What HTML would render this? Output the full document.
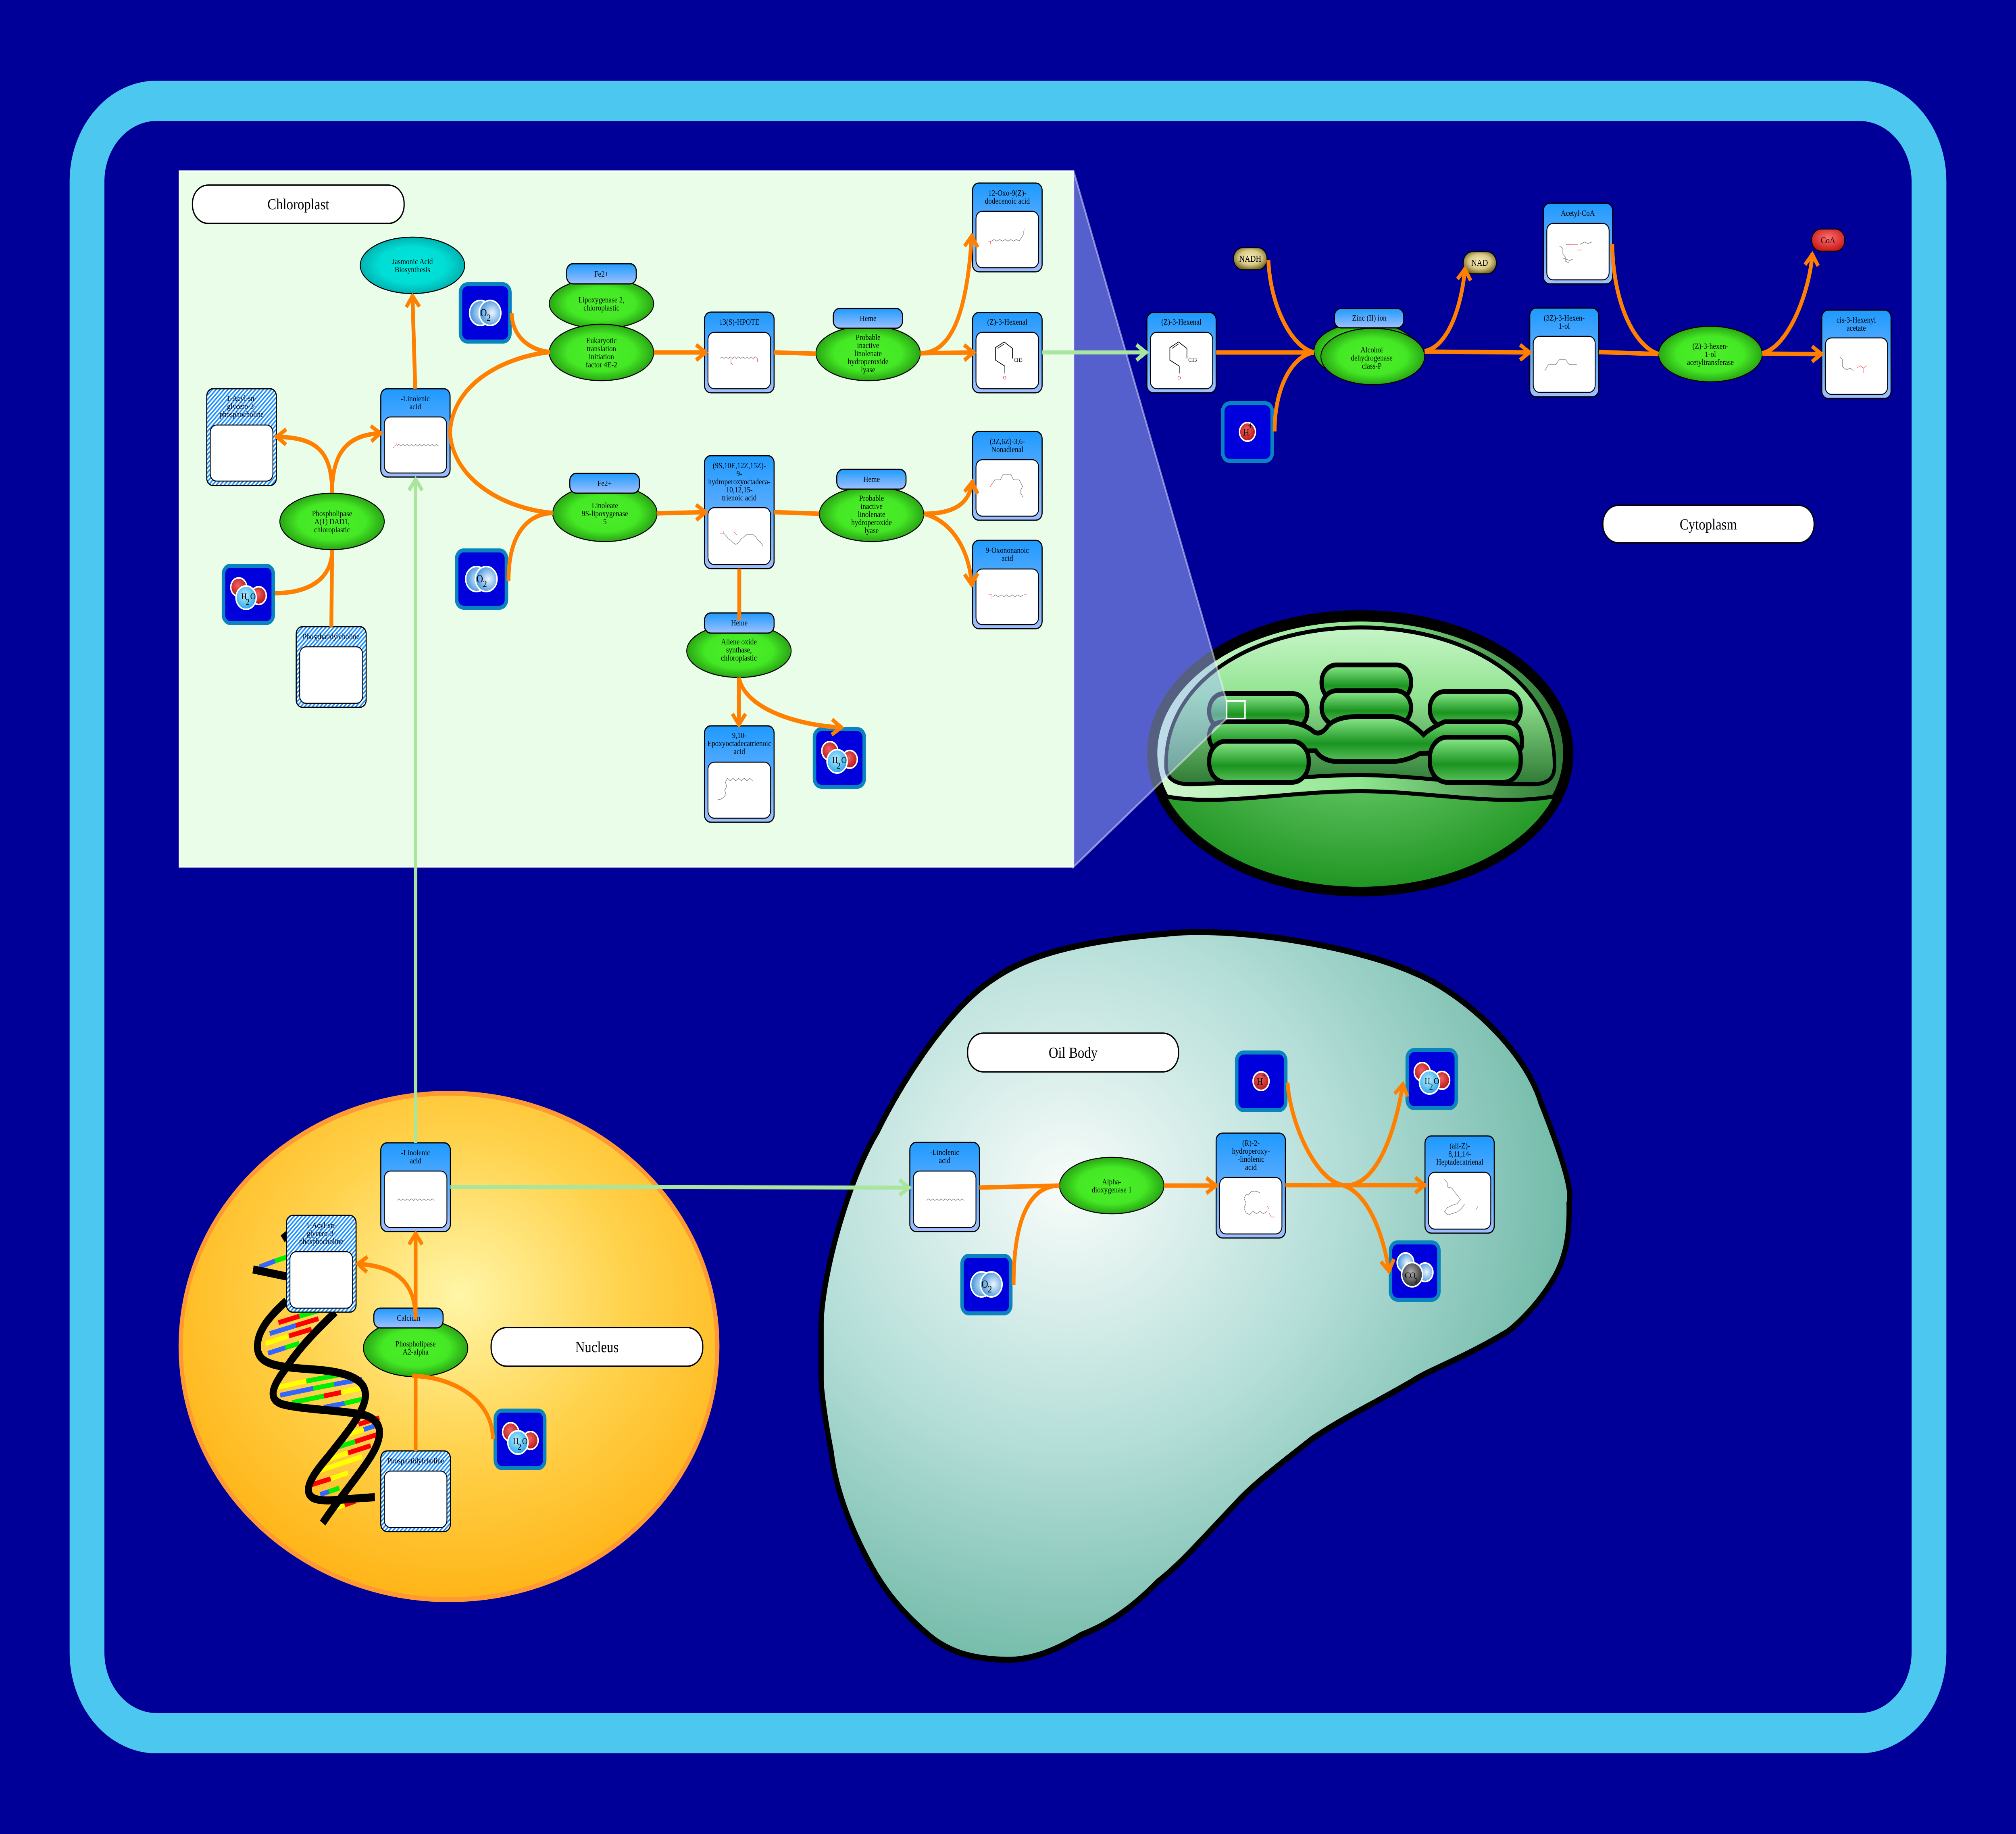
<!DOCTYPE html>
<html><head><meta charset="utf-8"><style>
html,body{margin:0;padding:0;width:100%;height:100%;overflow:hidden;background:#000099;}
svg{display:block;width:100vw;height:100vh;}
text{font-family:"Liberation Serif",serif;fill:#000;}
.t{font-size:20px;text-anchor:middle;}
.L{font-size:38px;text-anchor:middle;}
.eo{fill:none;stroke:#FF8000;stroke-width:11;}
.eg{fill:none;stroke:#A8E6A0;stroke-width:10;}
.bx{fill:url(#gb);stroke:#000;stroke-width:3;}
.hx{fill:url(#hatch);stroke:#000;stroke-width:3;}
.in{fill:#fff;stroke:#000;stroke-width:2.5;}
.el{fill:url(#ge);stroke:#000;stroke-width:2.5;}
.mb{fill:#0000DD;stroke:#0A84BF;stroke-width:10;}
.lb{fill:#fff;stroke:#000;stroke-width:3.5;}
.ms{fill:none;stroke:#777;stroke-width:1.3;}
.msr{fill:none;stroke:#e55;stroke-width:1.3;}
.wc{stroke:#fff;stroke-width:4;}
.gr{stroke:#000;stroke-width:12;fill:url(#ggr);}
</style></head><body>
<svg xmlns="http://www.w3.org/2000/svg" width="5792" height="4548" viewBox="0 0 5792 4548" preserveAspectRatio="none">
<defs>
<linearGradient id="gb" x1="0" y1="0" x2="0" y2="1"><stop offset="0" stop-color="#1E9AFF"/><stop offset="1" stop-color="#9EC0FF"/></linearGradient>
<radialGradient id="ge" cx=".5" cy=".5" r=".5"><stop offset="0" stop-color="#4AF02A"/><stop offset=".65" stop-color="#44E824"/><stop offset="1" stop-color="#2AA515"/></radialGradient>
<radialGradient id="gc" cx=".5" cy=".5" r=".5"><stop offset="0" stop-color="#00E6DC"/><stop offset=".65" stop-color="#00DDD5"/><stop offset="1" stop-color="#00B2B2"/></radialGradient>
<radialGradient id="gnadh" cx=".5" cy=".45" r=".55"><stop offset="0" stop-color="#F8F0B8"/><stop offset=".6" stop-color="#D8C888"/><stop offset="1" stop-color="#7A6A28"/></radialGradient>
<radialGradient id="gcoa" cx=".5" cy=".4" r=".6"><stop offset="0" stop-color="#FF7070"/><stop offset="1" stop-color="#C81818"/></radialGradient>
<radialGradient id="go2" cx=".6" cy=".5" r=".6"><stop offset="0" stop-color="#EEF6FF"/><stop offset="1" stop-color="#3A90DA"/></radialGradient>
<radialGradient id="gred" cx=".45" cy=".4" r=".6"><stop offset="0" stop-color="#F06262"/><stop offset="1" stop-color="#B81414"/></radialGradient>
<radialGradient id="gh" cx=".45" cy=".4" r=".6"><stop offset="0" stop-color="#B8EEFF"/><stop offset="1" stop-color="#28A6E8"/></radialGradient>
<radialGradient id="ggrey" cx=".45" cy=".4" r=".6"><stop offset="0" stop-color="#B0B0B0"/><stop offset="1" stop-color="#2A2A2A"/></radialGradient>
<radialGradient id="gnuc" cx=".52" cy=".4" r=".62"><stop offset="0" stop-color="#FFF6A8"/><stop offset=".5" stop-color="#FFD24C"/><stop offset="1" stop-color="#FFB314"/></radialGradient>
<radialGradient id="goil" cx=".33" cy=".35" r=".8"><stop offset="0" stop-color="#F8FCFA"/><stop offset=".45" stop-color="#B4DED8"/><stop offset="1" stop-color="#58AC96"/></radialGradient>
<radialGradient id="gorg" cx=".5" cy=".4" r=".62"><stop offset="0" stop-color="#7ED87E"/><stop offset="1" stop-color="#1B921E"/></radialGradient>
<linearGradient id="genv" x1="0" y1="0" x2="1" y2="0"><stop offset="0" stop-color="#D2F7D2"/><stop offset=".5" stop-color="#8EE68E"/><stop offset="1" stop-color="#2F7A35"/></linearGradient>
<linearGradient id="gstr" x1="0" y1="0" x2="0" y2="1"><stop offset="0" stop-color="#C8F5C8"/><stop offset=".45" stop-color="#8FE38F"/><stop offset="1" stop-color="#2F7A35"/></linearGradient>
<linearGradient id="ggr" x1="0" y1="0" x2="0" y2="1"><stop offset="0" stop-color="#8EEA8E"/><stop offset=".6" stop-color="#1A9420"/><stop offset="1" stop-color="#5CC05C"/></linearGradient>
<pattern id="hatch" width="8" height="8" patternUnits="userSpaceOnUse" patternTransform="rotate(45)"><rect width="8" height="8" fill="#fff"/><rect width="4" height="8" fill="#1E90FF"/></pattern>
<marker id="mo" markerUnits="userSpaceOnUse" markerWidth="70" markerHeight="70" viewBox="-35 -35 70 70" refX="0" refY="0" orient="auto"><path d="M-30,-19 L-3,0 L-30,19" fill="none" stroke="#FF8000" stroke-width="10"/></marker>
<marker id="mg" markerUnits="userSpaceOnUse" markerWidth="70" markerHeight="70" viewBox="-35 -35 70 70" refX="0" refY="0" orient="auto"><path d="M-30,-19 L-3,0 L-30,19" fill="none" stroke="#A8E6A0" stroke-width="10"/></marker>
</defs>

<rect width="5792" height="4548" fill="#000099"/>
<rect x="250" y="250" width="5292" height="4048" rx="200" fill="none" stroke="#4CC8F0" stroke-width="100"/>

<!-- Chloroplast panel -->
<rect x="515" y="424" width="2569" height="1726" fill="#EAFDE9" stroke="#fff" stroke-width="3"/>
<rect x="553" y="459" width="608" height="95" rx="45" class="lb"/>
<text class="L" x="857" y="519">Chloroplast</text>

<!-- Chloroplast organelle -->
<ellipse cx="3908" cy="1868" rx="600" ry="343" fill="url(#gorg)"/>
<path d="M3352,1975 A588,331 0 1 1 4464,1975 C4300,2000 4100,1962 3908,1962 C3700,1962 3500,2000 3352,1975 Z" fill="url(#genv)" stroke="#000" stroke-width="10"/>
<path d="M3350,1900 C3345,1690 3600,1556 3908,1556 C4216,1556 4470,1690 4466,1900 C4466,1935 4440,1945 4400,1945 C4200,1945 4050,1922 3908,1922 C3760,1922 3600,1940 3420,1945 C3378,1945 3350,1932 3350,1900 Z" fill="url(#gstr)" stroke="#000" stroke-width="10"/>
<rect x="3797" y="1649" width="257" height="87" rx="42" class="gr"/>
<rect x="3797" y="1713" width="257" height="84" rx="42" class="gr"/>
<rect x="3474" y="1720" width="282" height="87" rx="42" class="gr"/>
<rect x="4108" y="1715" width="261" height="87" rx="42" class="gr"/>
<path class="gr" d="M3520,1790 L3700,1790 Q3750,1795 3775,1815 Q3795,1825 3815,1800 Q3840,1777 3900,1777 L4000,1777 Q4040,1780 4090,1822 Q4110,1805 4150,1790 L4320,1790 Q4372,1790 4372,1835 L4372,1850 Q4372,1865 4330,1865 L4080,1868 Q4040,1889 3990,1889 L3850,1889 Q3800,1889 3780,1862 L3520,1862 Q3474,1862 3474,1826 Q3474,1790 3520,1790 Z"/>
<rect x="3474" y="1838" width="286" height="102" rx="48" class="gr"/>
<rect x="4108" y="1828" width="261" height="112" rx="50" class="gr"/>
<ellipse cx="3908" cy="1868" rx="600" ry="343" fill="none" stroke="#000" stroke-width="24"/>

<!-- zoom polygon -->
<polygon points="3084,423 3524,1738 3524,1782 3084,2150" fill="rgba(170,192,255,0.5)" stroke="rgba(255,255,255,0.45)" stroke-width="5"/>
<rect x="3524" y="1738" width="53" height="44" fill="none" stroke="#fff" stroke-width="4"/>

<!-- Nucleus -->
<ellipse cx="1290" cy="3339" rx="771" ry="628" fill="url(#gnuc)" stroke="#FF9933" stroke-width="12"/>
<!-- DNA rungs -->
<g stroke-width="12" fill="none">
<line x1="745" y1="3142" x2="790" y2="3127" stroke="#3366FF"/><line x1="790" y1="3127" x2="825" y2="3117" stroke="#00EE00"/>
<line x1="800" y1="3280" x2="860" y2="3264" stroke="#FF0000"/><line x1="860" y1="3264" x2="935" y2="3245" stroke="#00EE00"/>
<line x1="775" y1="3307" x2="850" y2="3287" stroke="#3366FF"/><line x1="850" y1="3287" x2="915" y2="3270" stroke="#FF0000"/>
<line x1="762" y1="3332" x2="830" y2="3313" stroke="#FFFF00"/><line x1="830" y1="3313" x2="895" y2="3296" stroke="#FF0000"/>
<line x1="770" y1="3356" x2="820" y2="3342" stroke="#3366FF"/><line x1="820" y1="3342" x2="860" y2="3331" stroke="#00EE00"/>
<line x1="800" y1="3440" x2="880" y2="3425" stroke="#FFFF00"/><line x1="880" y1="3425" x2="1000" y2="3405" stroke="#00EE00"/>
<line x1="805" y1="3460" x2="900" y2="3443" stroke="#3366FF"/><line x1="900" y1="3443" x2="960" y2="3433" stroke="#00EE00"/><line x1="960" y1="3433" x2="1040" y2="3420" stroke="#3366FF"/>
<line x1="840" y1="3478" x2="930" y2="3462" stroke="#00EE00"/><line x1="930" y1="3462" x2="980" y2="3453" stroke="#FF0000"/><line x1="980" y1="3453" x2="1045" y2="3441" stroke="#FFFF00"/>
<line x1="930" y1="3490" x2="990" y2="3480" stroke="#3366FF"/><line x1="990" y1="3480" x2="1050" y2="3468" stroke="#00EE00"/>
<line x1="1030" y1="3532" x2="1090" y2="3516" stroke="#FF0000"/>
<line x1="1000" y1="3557" x2="1045" y2="3545" stroke="#FFFF00"/><line x1="1045" y1="3545" x2="1090" y2="3532" stroke="#3366FF"/>
<line x1="965" y1="3590" x2="1020" y2="3575" stroke="#00EE00"/><line x1="1020" y1="3575" x2="1085" y2="3557" stroke="#FF0000"/>
<line x1="925" y1="3624" x2="1000" y2="3603" stroke="#FFFF00"/><line x1="1000" y1="3603" x2="1065" y2="3585" stroke="#FF0000"/>
<line x1="900" y1="3652" x2="1040" y2="3612" stroke="#FFFF00"/>
<line x1="895" y1="3682" x2="950" y2="3667" stroke="#FF0000"/><line x1="950" y1="3667" x2="1000" y2="3652" stroke="#FFFF00"/>
<line x1="920" y1="3706" x2="945" y2="3699" stroke="#3366FF"/><line x1="945" y1="3699" x2="975" y2="3690" stroke="#00EE00"/>
<line x1="955" y1="3742" x2="990" y2="3732" stroke="#FFFF00"/><line x1="990" y1="3732" x2="1020" y2="3723" stroke="#FF0000"/>
</g>
<g fill="none" stroke="#000" stroke-width="20">
<path d="M727,3148 L860,3172"/>
<path d="M812,3072 L832,3058"/>
<path d="M823,3226 C780,3260 735,3300 740,3346 C745,3385 800,3390 900,3396 C1000,3402 1050,3420 1050,3460 C1050,3500 990,3560 940,3615 C890,3665 870,3700 900,3715 C930,3728 1000,3715 1077,3713"/>
<path d="M963,3254 C920,3290 860,3340 820,3395 C780,3440 770,3470 810,3482 C860,3495 1000,3498 1050,3510 C1100,3525 1100,3560 1070,3605 C1040,3650 970,3720 927,3777"/>
</g>
<rect x="1411" y="3292" width="608" height="96" rx="45" class="lb"/>
<text class="L" x="1715" y="3353">Nucleus</text>

<!-- Oil body -->
<path d="M2359,3277 C2365,3150 2440,2920 2520,2807 C2580,2700 2720,2500 2857,2426 C2950,2370 3100,2330 3400,2312 C3600,2305 3900,2350 4060,2411 C4200,2460 4380,2600 4427,2734 C4480,2850 4520,2950 4508,2983 C4510,3060 4500,3110 4471,3159 C4420,3240 4340,3300 4324,3306 C4200,3370 4100,3400 4060,3424 C3950,3480 3850,3520 3767,3570 C3680,3630 3600,3680 3547,3732 C3450,3820 3390,3880 3327,3922 C3250,3990 3180,4030 3107,4054 C3020,4100 2950,4118 2887,4116 C2800,4114 2730,4100 2667,4054 C2580,3990 2530,3930 2491,3864 C2440,3780 2400,3690 2388,3600 C2370,3520 2360,3450 2359,3424 Z" fill="url(#goil)" stroke="#000" stroke-width="15"/>
<rect x="2780" y="2562" width="606" height="96" rx="45" class="lb"/>
<text class="L" x="3083" y="2623">Oil Body</text>

<!-- Cytoplasm label -->
<rect x="4605" y="1253" width="607" height="93" rx="45" class="lb"/>
<text class="L" x="4908" y="1313">Cytoplasm</text>

<!-- ===== Chloroplast nodes ===== -->
<ellipse cx="1185" cy="658" rx="150" ry="70" fill="url(#gc)" stroke="#000" stroke-width="2.5"/>
<text class="t" x="1185" y="655">Jasmonic Acid<tspan x="1185" dy="20">Biosynthesis</tspan></text>

<rect x="594" y="964" width="200" height="240" rx="18" class="hx"/>
<rect x="604" y="1054" width="180" height="139" rx="18" class="in"/>
<text class="t" x="694" y="994">1-Acyl-sn-<tspan x="694" dy="20">glycero-3-</tspan><tspan x="694" dy="20">phosphocholine</tspan></text>

<rect x="1094" y="964" width="199" height="219" rx="18" class="bx"/>
<rect x="1104" y="1034" width="179" height="139" rx="18" class="in"/>
<text class="t" x="1193" y="995">-Linolenic<tspan x="1193" dy="20">acid</tspan></text>
<path class="ms" d="M1140,1106 l6,-4 6,4 6,-4 6,4 6,-4 6,4 6,-4 6,4 6,-4 6,4 6,-4 6,4 6,-4 6,4 6,-4 6,4 6,-4 6,4 6,-4 6,4"/>
<path class="msr" d="M1136,1106 l4,-6 M1134,1108 l-4,2"/>

<ellipse cx="954" cy="1293" rx="150" ry="70" class="el"/>
<text class="t" x="954" y="1280">Phospholipase<tspan x="954" dy="20">A(1) DAD1,</tspan><tspan x="954" dy="20">chloroplastic</tspan></text>

<rect x="851" y="1554" width="201" height="200" rx="18" class="hx"/>
<rect x="861" y="1604" width="181" height="140" rx="18" class="in"/>
<text class="t" x="951" y="1585">Phosphatidylcholine</text>

<!-- H2O chl -->
<rect x="642" y="1403" width="143" height="142" rx="20" class="mb"/>
<circle cx="686" cy="1456" r="23" fill="url(#gred)" class="wc"/><circle cx="743" cy="1477" r="22" fill="url(#gred)" class="wc"/><circle cx="707" cy="1482" r="29" fill="url(#gh)" class="wc"/>
<text x="693" y="1486" font-size="22">H</text><text x="706" y="1500" font-size="22">2</text><text x="719" y="1486" font-size="22">O</text>

<!-- O2 chl top -->
<rect x="1323" y="705" width="142" height="142" rx="20" class="mb"/>
<circle cx="1380" cy="776" r="31" fill="url(#go2)" class="wc"/><circle cx="1408" cy="776" r="31" fill="url(#go2)" class="wc"/>
<text x="1380" y="784" font-size="26">O</text><text x="1398" y="796" font-size="24">2</text>
<!-- O2 chl low -->
<rect x="1312" y="1365" width="143" height="142" rx="20" class="mb"/>
<circle cx="1369" cy="1436" r="31" fill="url(#go2)" class="wc"/><circle cx="1397" cy="1436" r="31" fill="url(#go2)" class="wc"/>
<text x="1369" y="1444" font-size="26">O</text><text x="1387" y="1456" font-size="24">2</text>

<!-- Lipoxygenase complex -->
<ellipse cx="1728" cy="753" rx="150" ry="62" class="el"/>
<rect x="1628" y="654" width="200" height="50" rx="18" class="bx"/>
<text class="t" x="1728" y="686">Fe2+</text>
<text class="t" x="1728" y="750">Lipoxygenase 2,<tspan x="1728" dy="20">chloroplastic</tspan></text>
<ellipse cx="1728" cy="874" rx="150" ry="70" class="el"/>
<text class="t" x="1728" y="851">Eukaryotic<tspan x="1728" dy="20">translation</tspan><tspan x="1728" dy="20">initiation</tspan><tspan x="1728" dy="20">factor 4E-2</tspan></text>

<ellipse cx="1738" cy="1273" rx="150" ry="70" class="el"/>
<rect x="1637" y="1174" width="200" height="49" rx="18" class="bx"/>
<text class="t" x="1737" y="1205">Fe2+</text>
<text class="t" x="1738" y="1260">Linoleate<tspan x="1738" dy="20">9S-lipoxygenase</tspan><tspan x="1738" dy="20">5</tspan></text>

<rect x="2024" y="774" width="200" height="200" rx="18" class="bx"/>
<rect x="2034" y="824" width="180" height="140" rx="18" class="in"/>
<text class="t" x="2124" y="805">13(S)-HPOTE</text>
<path class="ms" d="M2068,889 l6,-4 6,4 6,-4 6,4 6,-4 6,4 6,-4 6,4 6,-4 6,4 6,-4 6,4 6,-4 6,4 6,-4 6,4 6,-4 6,4"/>
<path class="msr" d="M2100,891 l0,10 6,3 M2176,889 l0,8"/>

<rect x="2024" y="1130" width="200" height="280" rx="18" class="bx"/>
<rect x="2034" y="1259" width="180" height="141" rx="18" class="in"/>
<text class="t" x="2124" y="1161">(9S,10E,12Z,15Z)-<tspan x="2124" dy="20">9-</tspan><tspan x="2124" dy="20">hydroperoxyoctadeca-</tspan><tspan x="2124" dy="20">10,12,15-</tspan><tspan x="2124" dy="20">trienoic acid</tspan></text>
<path class="ms" d="M2078,1322 l8,6 6,8 8,4 6,6 8,4 8,-4 6,-8 8,-6 8,-6 10,0 10,0 8,6 6,8 8,6 6,8"/>
<path class="msr" d="M2068,1322 l10,0 0,-6 M2110,1320 l6,6"/>

<ellipse cx="2494" cy="876" rx="150" ry="68" class="el"/>
<rect x="2394" y="765" width="199" height="49" rx="18" class="bx"/>
<text class="t" x="2494" y="796">Heme</text>
<text class="t" x="2494" y="843">Probable<tspan x="2494" dy="20">inactive</tspan><tspan x="2494" dy="20">linolenate</tspan><tspan x="2494" dy="20">hydroperoxide</tspan><tspan x="2494" dy="20">lyase</tspan></text>

<ellipse cx="2504" cy="1275" rx="150" ry="68" class="el"/>
<rect x="2404" y="1164" width="199" height="49" rx="18" class="bx"/>
<text class="t" x="2504" y="1195">Heme</text>
<text class="t" x="2504" y="1242">Probable<tspan x="2504" dy="20">inactive</tspan><tspan x="2504" dy="20">linolenate</tspan><tspan x="2504" dy="20">hydroperoxide</tspan><tspan x="2504" dy="20">lyase</tspan></text>

<ellipse cx="2123" cy="1614" rx="150" ry="66" class="el"/>
<rect x="2024" y="1520" width="200" height="50" rx="18" class="bx"/>
<text class="t" x="2124" y="1551">Heme</text>
<text class="t" x="2123" y="1598">Allene oxide<tspan x="2123" dy="20">synthase,</tspan><tspan x="2123" dy="20">chloroplastic</tspan></text>

<rect x="2024" y="1800" width="200" height="239" rx="18" class="bx"/>
<rect x="2034" y="1890" width="180" height="139" rx="18" class="in"/>
<text class="t" x="2124" y="1830">9,10-<tspan x="2124" dy="20">Epoxyoctadecatrienoic</tspan><tspan x="2124" dy="20">acid</tspan></text>
<path class="ms" d="M2090,1930 l8,6 8,-6 8,6 8,-6 8,6 8,-6 8,6 8,-6 8,6 M2090,1930 l-6,10 4,10 -6,10 4,10 -8,8 -8,4 -10,2"/>

<!-- H2O chl 2 -->
<rect x="2340" y="1808" width="143" height="143" rx="20" class="mb"/>
<circle cx="2384" cy="1862" r="23" fill="url(#gred)" class="wc"/><circle cx="2441" cy="1883" r="22" fill="url(#gred)" class="wc"/><circle cx="2405" cy="1888" r="29" fill="url(#gh)" class="wc"/>
<text x="2391" y="1892" font-size="22">H</text><text x="2404" y="1906" font-size="22">2</text><text x="2417" y="1892" font-size="22">O</text>

<rect x="2794" y="454" width="200" height="220" rx="18" class="bx"/>
<rect x="2804" y="524" width="180" height="140" rx="18" class="in"/>
<text class="t" x="2894" y="485">12-Oxo-9(Z)-<tspan x="2894" dy="20">dodecenoic acid</tspan></text>
<path class="ms" d="M2848,598 l8,-4 8,4 8,-4 8,4 8,-4 8,4 8,-4 8,4 8,-4 8,4 6,-8 6,-8 0,-10"/>
<path class="msr" d="M2838,598 l8,0 M2846,598 l0,8 M2942,572 l0,-6"/>

<rect x="2794" y="775" width="200" height="199" rx="18" class="bx"/>
<rect x="2804" y="824" width="180" height="140" rx="18" class="in"/>
<text class="t" x="2894" y="805">(Z)-3-Hexenal</text>
<path d="M2909,889 L2909,864 L2885,848 L2860,862 L2860,893 L2887,908 L2887,926" fill="none" stroke="#000" stroke-width="1.8"/>
<path d="M2866,864 L2885,853" fill="none" stroke="#000" stroke-width="1.5"/>
<text x="2913" y="897" font-size="13" font-family="Liberation Sans, sans-serif">CH3</text>
<text x="2882" y="941" font-size="13" font-family="Liberation Sans, sans-serif" style="fill:#e00">O</text>

<rect x="2794" y="1070" width="200" height="220" rx="18" class="bx"/>
<rect x="2804" y="1140" width="180" height="140" rx="18" class="in"/>
<text class="t" x="2894" y="1101">(3Z,6Z)-3,6-<tspan x="2894" dy="20">Nonadienal</tspan></text>
<path class="ms" d="M2850,1200 l8,-10 16,0 8,-14 22,0 8,14 16,0 10,16 -8,14 10,14"/>
<path class="msr" d="M2850,1200 l-6,8"/>

<rect x="2794" y="1340" width="200" height="219" rx="18" class="bx"/>
<rect x="2804" y="1411" width="180" height="138" rx="18" class="in"/>
<text class="t" x="2894" y="1371">9-Oxononanoic<tspan x="2894" dy="20">acid</tspan></text>
<path class="ms" d="M2852,1480 l8,-5 8,5 8,-5 8,5 8,-5 8,5 8,-5 8,5 8,-5 8,5 8,-5"/>
<path class="msr" d="M2840,1475 l10,0 0,10 M2942,1475 l8,0"/>

<!-- ===== Cytoplasm nodes ===== -->
<rect x="3295" y="775" width="199" height="199" rx="18" class="bx"/>
<rect x="3305" y="824" width="179" height="140" rx="18" class="in"/>
<text class="t" x="3394" y="805">(Z)-3-Hexenal</text>
<path d="M3410,889 L3410,864 L3386,848 L3361,862 L3361,893 L3388,908 L3388,926" fill="none" stroke="#000" stroke-width="1.8"/>
<path d="M3367,864 L3386,853" fill="none" stroke="#000" stroke-width="1.5"/>
<text x="3414" y="897" font-size="13" font-family="Liberation Sans, sans-serif">CH3</text>
<text x="3383" y="941" font-size="13" font-family="Liberation Sans, sans-serif" style="fill:#e00">O</text>

<rect x="3544" y="614" width="96" height="55" rx="27" fill="url(#gnadh)" stroke="#000" stroke-width="2.5"/>
<text class="t" x="3592" y="649" style="font-size:22px">NADH</text>

<rect x="3513" y="1000" width="142" height="143" rx="20" class="mb"/>
<circle cx="3584" cy="1071" r="23" fill="url(#gred)" class="wc"/>
<text x="3572" y="1080" font-size="24">H</text><text x="3586" y="1064" font-size="24">+</text>

<ellipse cx="3924" cy="870" rx="149" ry="70" class="el"/>
<ellipse cx="3944" cy="884" rx="149" ry="70" class="el"/>
<rect x="3834" y="765" width="199" height="48" rx="18" class="bx"/>
<text class="t" x="3934" y="795">Zinc (II) ion</text>
<text class="t" x="3941" y="874">Alcohol<tspan x="3941" dy="20">dehydrogenase</tspan><tspan x="3941" dy="20">class-P</tspan></text>

<rect x="4204" y="624" width="95" height="55" rx="27" fill="url(#gnadh)" stroke="#000" stroke-width="2.5"/>
<text class="t" x="4251" y="659" style="font-size:22px">NAD</text>

<rect x="4395" y="764" width="198" height="220" rx="18" class="bx"/>
<rect x="4405" y="834" width="178" height="139" rx="18" class="in"/>
<text class="t" x="4494" y="795">(3Z)-3-Hexen-<tspan x="4494" dy="20">1-ol</tspan></text>
<path class="ms" d="M4442,914 l6,-10 22,0 10,-12 18,0 10,12 22,0"/>
<path class="msr" d="M4442,914 l-4,6"/>

<rect x="4434" y="504" width="199" height="200" rx="18" class="bx"/>
<rect x="4444" y="554" width="179" height="140" rx="18" class="in"/>
<text class="t" x="4533" y="535">Acetyl-CoA</text>
<path class="ms" d="M4480,610 l10,6 0,14 8,8 0,10 10,4 M4498,606 l12,0 M4540,606 l12,-6 10,4 12,-4 M4490,640 l20,6 10,-4"/>
<path class="msr" d="M4505,606 l28,0 M4532,620 l12,0"/>

<ellipse cx="4914" cy="878" rx="149" ry="69" class="el"/>
<text class="t" x="4914" y="865">(Z)-3-hexen-<tspan x="4914" dy="20">1-ol</tspan><tspan x="4914" dy="20">acetyltransferase</tspan></text>

<rect x="5205" y="568" width="95" height="55" rx="27" fill="url(#gcoa)" stroke="#000" stroke-width="2.5"/>
<text class="t" x="5252" y="603" style="font-size:22px">CoA</text>

<rect x="5234" y="769" width="199" height="219" rx="18" class="bx"/>
<rect x="5244" y="838" width="179" height="140" rx="18" class="in"/>
<text class="t" x="5333" y="800">cis-3-Hexenyl<tspan x="5333" dy="20">acetate</tspan></text>
<path class="ms" d="M5285,885 l8,6 0,18 12,8 10,-4 10,6"/>
<path class="msr" d="M5335,913 l10,-6 8,6 0,12 M5353,913 l10,-6"/>

<!-- ===== Nucleus nodes ===== -->
<rect x="1094" y="2834" width="200" height="220" rx="18" class="bx"/>
<rect x="1104" y="2904" width="180" height="140" rx="18" class="in"/>
<text class="t" x="1194" y="2865">-Linolenic<tspan x="1194" dy="20">acid</tspan></text>
<path class="ms" d="M1140,2977 l6,-4 6,4 6,-4 6,4 6,-4 6,4 6,-4 6,4 6,-4 6,4 6,-4 6,4 6,-4 6,4 6,-4 6,4 6,-4 6,4"/>

<rect x="823" y="3014" width="200" height="240" rx="18" class="hx"/>
<rect x="833" y="3104" width="180" height="140" rx="18" class="in"/>
<text class="t" x="923" y="3045">1-Acyl-sn-<tspan x="923" dy="20">glycero-3-</tspan><tspan x="923" dy="20">phosphocholine</tspan></text>

<ellipse cx="1194" cy="3343" rx="150" ry="71" class="el"/>
<rect x="1074" y="3244" width="199" height="49" rx="18" class="bx"/>
<text class="t" x="1174" y="3275">Calcium</text>
<text class="t" x="1194" y="3339">Phospholipase<tspan x="1194" dy="20">A2-alpha</tspan></text>

<rect x="1094" y="3598" width="200" height="200" rx="18" class="hx"/>
<rect x="1104" y="3648" width="180" height="140" rx="18" class="in"/>
<text class="t" x="1194" y="3629">Phosphatidylcholine</text>

<rect x="1423" y="3498" width="142" height="143" rx="20" class="mb"/>
<circle cx="1467" cy="3551" r="23" fill="url(#gred)" class="wc"/><circle cx="1524" cy="3572" r="22" fill="url(#gred)" class="wc"/><circle cx="1488" cy="3577" r="29" fill="url(#gh)" class="wc"/>
<text x="1474" y="3581" font-size="22">H</text><text x="1487" y="3595" font-size="22">2</text><text x="1500" y="3581" font-size="22">O</text>

<!-- ===== Oil body nodes ===== -->
<rect x="2614" y="2833" width="200" height="221" rx="18" class="bx"/>
<rect x="2624" y="2904" width="180" height="140" rx="18" class="in"/>
<text class="t" x="2714" y="2864">-Linolenic<tspan x="2714" dy="20">acid</tspan></text>
<path class="ms" d="M2662,2977 l6,-4 6,4 6,-4 6,4 6,-4 6,4 6,-4 6,4 6,-4 6,4 6,-4 6,4 6,-4 6,4 6,-4 6,4 6,-4 6,4"/>

<ellipse cx="3194" cy="2940" rx="150" ry="70" class="el"/>
<text class="t" x="3194" y="2937">Alpha-<tspan x="3194" dy="20">dioxygenase 1</tspan></text>

<rect x="2764" y="3114" width="140" height="143" rx="20" class="mb"/>
<circle cx="2820" cy="3185" r="31" fill="url(#go2)" class="wc"/><circle cx="2848" cy="3185" r="31" fill="url(#go2)" class="wc"/>
<text x="2820" y="3193" font-size="26">O</text><text x="2838" y="3205" font-size="24">2</text>

<rect x="3494" y="2810" width="199" height="260" rx="18" class="bx"/>
<rect x="3504" y="2920" width="179" height="140" rx="18" class="in"/>
<text class="t" x="3594" y="2841">(R)-2-<tspan x="3594" dy="20">hydroperoxy-</tspan><tspan x="3594" dy="20">-linolenic</tspan><tspan x="3594" dy="20">acid</tspan></text>
<path class="ms" d="M3620,2958 l-10,-4 -14,0 -8,8 -8,0 -6,10 6,12 -6,12 6,12 10,4 10,-8 10,6 10,-6 10,6 10,-6"/>
<path class="msr" d="M3640,2990 l6,8 0,10 M3646,3008 l6,10 10,0"/>

<rect x="3553" y="2610" width="141" height="143" rx="20" class="mb"/>
<circle cx="3623" cy="2681" r="23" fill="url(#gred)" class="wc"/>
<text x="3611" y="2690" font-size="24">H</text><text x="3625" y="2674" font-size="24">+</text>

<rect x="4043" y="2604" width="141" height="144" rx="20" class="mb"/>
<circle cx="4086" cy="2658" r="23" fill="url(#gred)" class="wc"/><circle cx="4143" cy="2679" r="22" fill="url(#gred)" class="wc"/><circle cx="4107" cy="2684" r="29" fill="url(#gh)" class="wc"/>
<text x="4093" y="2688" font-size="22">H</text><text x="4106" y="2702" font-size="22">2</text><text x="4119" y="2688" font-size="22">O</text>

<rect x="4094" y="2817" width="199" height="241" rx="18" class="bx"/>
<rect x="4104" y="2907" width="179" height="141" rx="18" class="in"/>
<text class="t" x="4194" y="2848">(all-Z)-<tspan x="4194" dy="20">8,11,14-</tspan><tspan x="4194" dy="20">Heptadecatrienal</tspan></text>
<path class="ms" d="M4150,2925 l8,8 0,10 14,4 8,10 8,8 8,10 -10,10 -14,4 -14,6 -8,10 10,8 14,-4 14,-4 10,-8 10,-10"/>
<path class="msr" d="M4240,3000 l6,-8"/>

<rect x="3995" y="3081" width="139" height="142" rx="20" class="mb"/>
<circle cx="4038" cy="3131" r="24" fill="url(#go2)" class="wc"/><circle cx="4094" cy="3155" r="23" fill="url(#go2)" class="wc"/><circle cx="4057" cy="3161" r="30" fill="url(#ggrey)" class="wc"/>
<text x="4036" y="3170" font-size="22">CO</text><text x="4064" y="3182" font-size="18">2</text>

<!-- ===== Edges ===== -->
<path class="eg" marker-end="url(#mg)" d="M1194,2834 L1194,1186"/>
<path class="eg" marker-end="url(#mg)" d="M1294,2943 L2614,2945"/>
<path class="eg" marker-end="url(#mg)" d="M2994,874 L3295,874"/>

<path class="eo" marker-end="url(#mo)" d="M954,1222 C954,1110 900,1085 792,1083"/>
<path class="eo" marker-end="url(#mo)" d="M954,1222 C954,1110 1010,1078 1096,1074"/>
<path class="eo" d="M952,1554 L954,1364"/>
<path class="eo" d="M790,1471 C880,1471 954,1440 954,1364"/>
<path class="eo" marker-end="url(#mo)" d="M1193,964 L1185,731"/>
<path class="eo" d="M1293,1072 C1300,950 1450,885 1580,873"/>
<path class="eo" d="M1293,1072 C1300,1190 1450,1262 1588,1272"/>
<path class="eo" d="M1470,777 C1472,840 1530,870 1580,873"/>
<path class="eo" d="M1461,1440 C1461,1330 1510,1275 1588,1272"/>
<path class="eo" marker-end="url(#mo)" d="M1878,874 L2030,874"/>
<path class="eo" marker-end="url(#mo)" d="M1888,1273 L2030,1270"/>
<path class="eo" d="M2224,874 L2344,877"/>
<path class="eo" d="M2224,1270 L2354,1274"/>
<path class="eo" marker-end="url(#mo)" d="M2644,876 C2740,876 2780,760 2792,582"/>
<path class="eo" marker-end="url(#mo)" d="M2644,876 L2800,874"/>
<path class="eo" marker-end="url(#mo)" d="M2654,1274 C2740,1274 2786,1250 2794,1192"/>
<path class="eo" marker-end="url(#mo)" d="M2654,1274 C2730,1290 2786,1360 2792,1453"/>
<path class="eo" d="M2124,1410 L2124,1538"/>
<path class="eo" marker-end="url(#mo)" d="M2123,1680 L2123,1800"/>
<path class="eo" marker-end="url(#mo)" d="M2123,1680 C2140,1760 2300,1800 2420,1804"/>

<path class="eo" d="M3494,874 L3775,874"/>
<path class="eo" d="M3644,645 C3650,760 3710,860 3775,874"/>
<path class="eo" d="M3662,1070 C3662,950 3720,880 3775,874"/>
<path class="eo" marker-end="url(#mo)" d="M4093,871 C4160,860 4200,760 4209,664"/>
<path class="eo" marker-end="url(#mo)" d="M4093,872 L4397,874"/>
<path class="eo" d="M4593,873 L4765,878"/>
<path class="eo" d="M4632,605 C4635,760 4700,860 4765,878"/>
<path class="eo" marker-end="url(#mo)" d="M5063,876 C5140,860 5200,720 5207,628"/>
<path class="eo" marker-end="url(#mo)" d="M5063,877 L5236,878"/>

<path class="eo" marker-end="url(#mo)" d="M1194,3272 L1194,3056"/>
<path class="eo" marker-end="url(#mo)" d="M1194,3272 C1194,3180 1140,3140 1025,3134"/>
<path class="eo" d="M1194,3598 L1194,3414"/>
<path class="eo" d="M1416,3569 C1416,3470 1300,3414 1184,3412"/>

<path class="eo" d="M2814,2945 L3044,2940"/>
<path class="eo" d="M2912,3186 C2912,3020 2960,2940 3044,2940"/>
<path class="eo" marker-end="url(#mo)" d="M3344,2940 L3496,2940"/>
<path class="eo" marker-end="url(#mo)" d="M3693,2939 L4096,2939"/>
<path class="eo" d="M3699,2685 C3710,2800 3790,2940 3870,2940"/>
<path class="eo" marker-end="url(#mo)" d="M3870,2940 C3960,2935 4010,2800 4031,2686"/>
<path class="eo" marker-end="url(#mo)" d="M3860,2940 C3930,2960 3975,3060 3991,3155"/>
</svg>
</body></html>
